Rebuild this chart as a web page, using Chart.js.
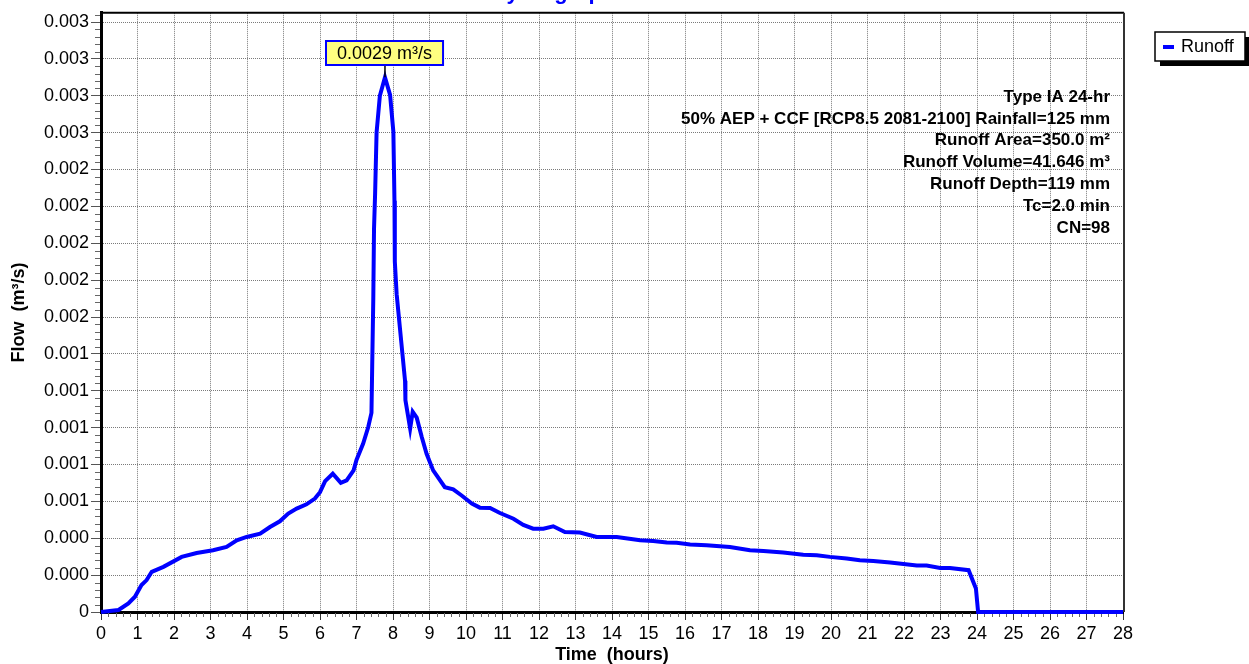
<!DOCTYPE html>
<html><head><meta charset="utf-8">
<script src="https://cdn.jsdelivr.net/npm/chart.js@4.4.1/dist/chart.umd.min.js"></script>
<style>html,body{margin:0;padding:0;background:#fff;overflow:hidden}#wrap{width:1249px;height:664px;position:relative}</style>
</head><body><div id="wrap"><canvas id="c" width="1249" height="664"></canvas></div>
<script>
const chartTitle = 'Hydrograph';
const seriesName = 'Runoff';
const xAxisTitle = 'Time  (hours)';
const yAxisTitle = 'Flow  (m³/s)';
const peakLabel = '0.0029 m³/s';
const infoLines = [
  'Type IA 24-hr',
  '50% AEP + CCF [RCP8.5 2081-2100] Rainfall=125 mm',
  'Runoff Area=350.0 m²',
  'Runoff Volume=41.646 m³',
  'Runoff Depth=119 mm',
  'Tc=2.0 min',
  'CN=98'
];
const times = [0, 0.48, 0.75, 0.93, 1.11, 1.25, 1.39, 1.71, 2.21, 2.62, 3.07, 3.44, 3.72, 3.99, 4.36, 4.63, 4.90, 5.13, 5.36, 5.63, 5.86, 6.00, 6.14, 6.35, 6.57, 6.73, 6.92, 7.00, 7.18, 7.32, 7.41, 7.43, 7.46, 7.48, 7.51, 7.55, 7.64, 7.78, 7.92, 8.01, 8.04, 8.05, 8.10, 8.19, 8.33, 8.34, 8.47, 8.54, 8.65, 8.79, 8.92, 9.10, 9.42, 9.65, 9.88, 10.16, 10.38, 10.66, 10.93, 11.30, 11.57, 11.84, 12.12, 12.39, 12.71, 13.12, 13.58, 14.13, 14.77, 15.13, 15.50, 15.77, 16.14, 16.59, 17.23, 17.78, 18.15, 18.69, 19.24, 19.61, 19.97, 20.43, 20.79, 21.16, 21.62, 22.35, 22.62, 22.99, 23.26, 23.77, 23.97, 24.03, 28];
const flows = [0, 0.000011, 0.000047, 0.000083, 0.000146, 0.000173, 0.000218, 0.000245, 0.000299, 0.000320, 0.000335, 0.000353, 0.000389, 0.000407, 0.000425, 0.000461, 0.000492, 0.000534, 0.000561, 0.000584, 0.000615, 0.000650, 0.000710, 0.000750, 0.000701, 0.000714, 0.000768, 0.000825, 0.000912, 0.001002, 0.001080, 0.001330, 0.001700, 0.002080, 0.002270, 0.002600, 0.002800, 0.002900, 0.002805, 0.002605, 0.002230, 0.001900, 0.001724, 0.001540, 0.001254, 0.001150, 0.000995, 0.001086, 0.001054, 0.000948, 0.000858, 0.000768, 0.000677, 0.000665, 0.000632, 0.000588, 0.000566, 0.000564, 0.000537, 0.000506, 0.000472, 0.000452, 0.000452, 0.000465, 0.000434, 0.000431, 0.000407, 0.000407, 0.000389, 0.000385, 0.000377, 0.000375, 0.000366, 0.000362, 0.000353, 0.000335, 0.000331, 0.000323, 0.000310, 0.000308, 0.000299, 0.000290, 0.000281, 0.000277, 0.000269, 0.000252, 0.000252, 0.000239, 0.000239, 0.000227, 0.000128, 0, 0];
const xTickValues = [0,1,2,3,4,5,6,7,8,9,10,11,12,13,14,15,16,17,18,19,20,21,22,23,24,25,26,27,28];
const yTickValues = [0, 0.0002, 0.0004, 0.0006, 0.0008, 0.0010, 0.0012, 0.0014, 0.0016, 0.0018, 0.0020, 0.0022, 0.0024, 0.0026, 0.0028, 0.0030, 0.0032];
const yTickLabels = ['0', '0.000', '0.000', '0.001', '0.001', '0.001', '0.001', '0.001', '0.002', '0.002', '0.002', '0.002', '0.002', '0.003', '0.003', '0.003', '0.003'];

const FONT = "'Liberation Sans', Arial, Helvetica, sans-serif";
const BLUE = '#0000FF';

const decor = {
  id: 'decor',
  beforeDatasetsDraw(chart) {
    const {ctx, chartArea: a, scales: {x, y}} = chart;
    ctx.save();
    ctx.strokeStyle = '#666';
    ctx.lineWidth = 1;
    ctx.beginPath();
    for (let i = 0; i <= 28 * 5; i++) {
      if (i % 5 === 0) continue;
      const px = Math.round(x.getPixelForValue(i / 5)) + 0.5;
      ctx.moveTo(px, a.bottom + 1); ctx.lineTo(px, a.bottom + 5);
    }
    for (let i = 0; i <= 16 * 5 + 1; i++) {
      if (i % 5 === 0) continue;
      const v = i * 0.00004;
      if (v > y.max) break;
      const py = Math.round(y.getPixelForValue(v)) + 0.5;
      ctx.moveTo(a.left - 6, py); ctx.lineTo(a.left - 1, py);
    }
    ctx.stroke();
    ctx.strokeStyle = '#000';
    ctx.lineWidth = 2;
    ctx.beginPath();
    ctx.moveTo(a.left, a.top); ctx.lineTo(a.right + 1, a.top);
    ctx.stroke();
    ctx.strokeStyle = '#333';
    ctx.beginPath();
    ctx.moveTo(a.right + 1, a.top); ctx.lineTo(a.right + 1, a.bottom);
    ctx.stroke();
    ctx.restore();
  },
  afterDatasetsDraw(chart) {
    const {ctx, chartArea: a, scales: {x, y}} = chart;
    ctx.save();
    ctx.fillStyle = BLUE;
    ctx.font = 'bold 22px ' + FONT;
    ctx.textAlign = 'center';
    ctx.textBaseline = 'alphabetic';
    ctx.fillText(chartTitle, 553, -1);

    let pi = 0;
    for (let i = 1; i < flows.length; i++) if (flows[i] > flows[pi]) pi = i;
    const px = x.getPixelForValue(times[pi]);
    const py = y.getPixelForValue(flows[pi]);
    ctx.font = '18px ' + FONT;
    const tw = ctx.measureText(peakLabel).width;
    const bw = tw + 22, bh = 24;
    const bx = Math.round(px - bw / 2), by = Math.round(py - 12 - bh);
    ctx.strokeStyle = '#000';
    ctx.lineWidth = 1.5;
    ctx.beginPath(); ctx.moveTo(px, py); ctx.lineTo(px, by + bh); ctx.stroke();
    ctx.fillStyle = '#FFFF80';
    ctx.fillRect(bx, by, bw, bh);
    ctx.strokeStyle = BLUE;
    ctx.lineWidth = 2;
    ctx.strokeRect(bx, by, bw, bh);
    ctx.fillStyle = '#000';
    ctx.textAlign = 'center';
    ctx.textBaseline = 'middle';
    ctx.fillText(peakLabel, bx + bw / 2, by + bh / 2 + 1);

    ctx.font = 'bold 17px ' + FONT;
    ctx.textAlign = 'right';
    ctx.fillStyle = '#000';
    infoLines.forEach((t, i) => ctx.fillText(t, a.right - 13, 97 + i * 21.9));

    const lx = 1155, ly = 32, lw = 90, lh = 29;
    ctx.fillStyle = '#000';
    ctx.fillRect(lx + 5, ly + 5, lw, lh);
    ctx.fillStyle = '#fff';
    ctx.fillRect(lx, ly, lw, lh);
    ctx.strokeStyle = '#000';
    ctx.lineWidth = 1.5;
    ctx.strokeRect(lx, ly, lw, lh);
    ctx.strokeStyle = BLUE;
    ctx.lineWidth = 4;
    ctx.beginPath(); ctx.moveTo(lx + 8, ly + 15); ctx.lineTo(lx + 19, ly + 15); ctx.stroke();
    ctx.fillStyle = '#000';
    ctx.font = '18px ' + FONT;
    ctx.textAlign = 'left';
    ctx.textBaseline = 'middle';
    ctx.fillText(seriesName, lx + 26, ly + 15.5);
    ctx.restore();
  }
};

new Chart(document.getElementById('c'), {
  type: 'line',
  data: {
    datasets: [{
      label: seriesName,
      data: times.map((t, i) => ({x: t, y: flows[i]})),
      borderColor: BLUE,
      borderWidth: 4,
      pointRadius: 0,
      tension: 0,
      fill: false,
      clip: 8
    }]
  },
  options: {
    responsive: false,
    animation: false,
    events: [],
    layout: {padding: {left: 0, right: 126, top: 11, bottom: 0}},
    plugins: {legend: {display: false}, tooltip: {enabled: false}, title: {display: false}},
    scales: {
      x: {
        type: 'linear', min: 0, max: 28,
        afterBuildTicks: s => { s.ticks = xTickValues.map(v => ({value: v})); },
        afterFit: s => { s.height = 52; },
        grid: {color: '#7a7a7a', lineWidth: 1, tickLength: 8, tickColor: '#333', drawTicks: true},
        border: {display: true, color: '#000', width: 3, dash: [1, 1]},
        ticks: {autoSkip: false, maxRotation: 0, padding: 3, color: '#000', font: {family: FONT, size: 18}},
        title: {display: true, text: xAxisTitle, color: '#000', font: {family: FONT, size: 18, weight: 'bold', lineHeight: 1}, padding: {top: 0, bottom: 0}}
      },
      y: {
        type: 'linear', min: 0, max: 0.00325,
        afterBuildTicks: s => { s.ticks = yTickValues.map(v => ({value: v})); },
        afterFit: s => { s.width = 101; },
        grid: {color: '#7a7a7a', lineWidth: 1, tickLength: 10, tickColor: '#555', drawTicks: true},
        border: {display: true, color: '#000', width: 3, dash: [1, 1]},
        ticks: {padding: 2, color: '#000', font: {family: FONT, size: 18}, callback: (v, i) => yTickLabels[i]},
        title: {display: true, text: yAxisTitle, color: '#000', font: {family: FONT, size: 18, weight: 'bold', lineHeight: 1}, padding: {top: 10, bottom: 0}}
      }
    }
  },
  plugins: [decor]
});
</script>
</body></html>
